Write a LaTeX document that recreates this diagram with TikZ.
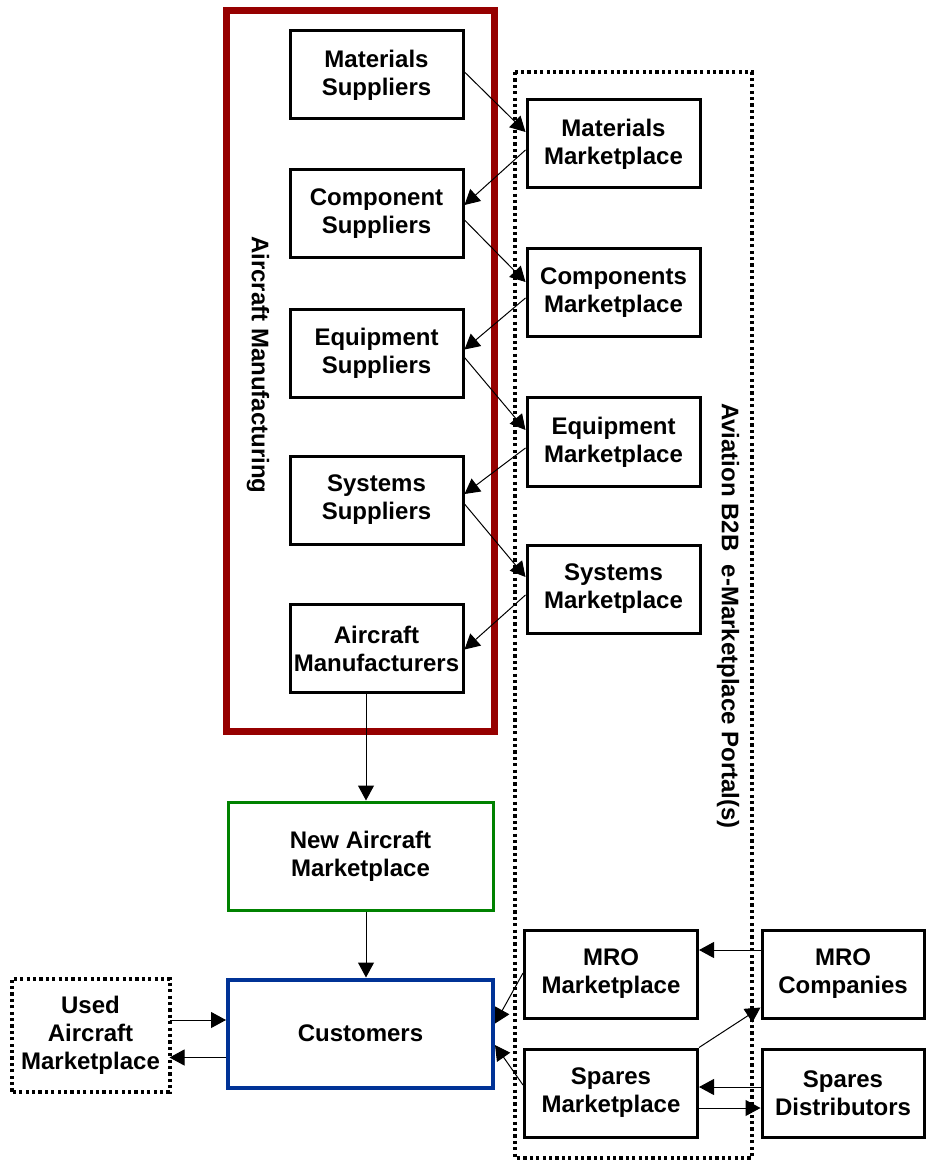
\documentclass[tikz,border=0pt]{standalone}
\usepackage{fontspec}
\setmainfont{Liberation Sans}
\usepackage{tikz}
\usetikzlibrary{arrows.meta, positioning, shapes}
\definecolor{mfgred}{RGB}{150,0,0}
\definecolor{newgreen}{RGB}{0,130,0}
\definecolor{custblue}{RGB}{0,50,150}
\tikzstyle{arrow} = [line width=0.5pt,->,>={Triangle[length=7.5pt,width=8pt]}]
\tikzset{box/.style={
    draw, line width=1.5pt, minimum width=86.5pt, minimum height=44pt,
    inner sep=1pt, align=center, font=\bfseries\fontsize{12}{14}\selectfont
  },
  bigbox/.style={box, minimum width=132.5pt, minimum height=54pt},
  dots/.style={line width=2pt, dash pattern=on 1.6pt off 1.6pt},
  sidelabel/.style={rotate=-90, font=\bfseries\fontsize{12}{14}\selectfont},
}

\begin{document}
\begin{tikzpicture}[x=0.5pt, y=-0.5pt]
        \useasboundingbox (0,0) rectangle (926,1165);

        % frames
        \draw[mfgred, line width=3.5pt] (226,11) rectangle (494,731);
        \draw[dots] (515,72) rectangle (752,1158);
        \node[sidelabel] (mfglabel) at (258,365) {Aircraft Manufacturing};
        \node[sidelabel] (portallabel) at (728,616) {Aviation B2B\ \ e-Marketplace Portal(s)};

        % suppliers
        \node[box] (matsup) at (376.5,75) {Materials\\Suppliers};
        \node[box] (compsup) at (376.5,214) {Component\\Suppliers};
        \node[box] (equipsup) at (376.5,353.5) {Equipment\\Suppliers};
        \node[box] (syssup) at (376.5,500) {Systems\\Suppliers};
        \node[box] (acman) at (376.5,648.5) {Aircraft\\Manufacturers};

        % marketplaces
        \node[box] (matmkt) at (613.5,144) {Materials\\Marketplace};
        \node[box] (compmkt) at (613.5,293) {Components\\Marketplace};
        \node[box] (equipmkt) at (613.5,442) {Equipment\\Marketplace};
        \node[box] (sysmkt) at (613.5,589) {Systems\\Marketplace};
        \node[box] (mromkt) at (611,974) {MRO\\Marketplace};
        \node[box] (spmkt) at (611,1093) {Spares\\Marketplace};
        \node[box, minimum width=81pt] (mroco) at (843,974) {MRO\\Companies};
        \node[box, minimum width=81pt] (spdist) at (843,1093) {Spares\\Distributors};

        % aircraft and customers
        \node[bigbox, draw=newgreen] (newac) at (360.5,856) {New Aircraft\\Marketplace};
        \node[bigbox, draw=custblue, line width=2pt] (cust) at (360.5,1033.5) {Customers};
        \node[box, draw=none, minimum width=77.5pt, minimum height=55pt] (used) at (90.5,1035) {Used\\Aircraft\\Marketplace};
        \draw[dots] (used.south west) rectangle (used.north east);

        % supply chain links
        \draw[arrow] ([yshift=1.5pt]matsup.east) -- ([yshift=6pt]matmkt.west);
        \draw[arrow] ([yshift=-3pt]matmkt.west) -- ([yshift=4.5pt]compsup.east);
        \draw[arrow] ([yshift=-3pt]compsup.east) -- ([yshift=5.5pt]compmkt.west);
        \draw[arrow] ([yshift=-2.5pt]compmkt.west) -- ([yshift=2pt]equipsup.east);
        \draw[arrow] ([yshift=-2pt]equipsup.east) -- ([yshift=6pt]equipmkt.west);
        \draw[arrow] ([yshift=-3pt]equipmkt.west) -- ([yshift=3pt]syssup.east);
        \draw[arrow] ([yshift=-2pt]syssup.east) -- ([yshift=6pt]sysmkt.west);
        \draw[arrow] ([yshift=-3pt]sysmkt.west) -- ([yshift=-0.5pt]acman.east);

        \draw[arrow] ([xshift=-5.25pt]acman.south) -- ([xshift=-5.25pt]acman.south |- newac.north);
        \draw[arrow] ([xshift=2.75pt]newac.south) -- ([xshift=2.75pt]cust.north);

        \draw[arrow] ([yshift=7.5pt]used.east) -- ([yshift=7.5pt]used.east -| cust.west);
        \draw[arrow] ([yshift=-12pt]cust.west) -- ([yshift=-12pt]cust.west -| used.east);

        % aftermarket links
        \draw[arrow] ([yshift=0.5pt]mromkt.west) -- ([yshift=5pt]cust.east);
        \draw[arrow] ([yshift=4pt]spmkt.west) -- ([yshift=-5.75pt]cust.east);
        \draw[arrow] ([yshift=12pt]mroco.west) -- ([yshift=12pt]mroco.west -| mromkt.east);
        \draw[arrow] (spmkt.north east) -- ([yshift=6pt]mroco.south west);
        \draw[arrow] ([yshift=3pt]spdist.west) -- ([yshift=3pt]spdist.west -| spmkt.east);
        \draw[arrow] ([yshift=-7.5pt]spmkt.east) -- ([yshift=-7.5pt]spmkt.east -| spdist.west);
    \end{tikzpicture}
\end{document}
